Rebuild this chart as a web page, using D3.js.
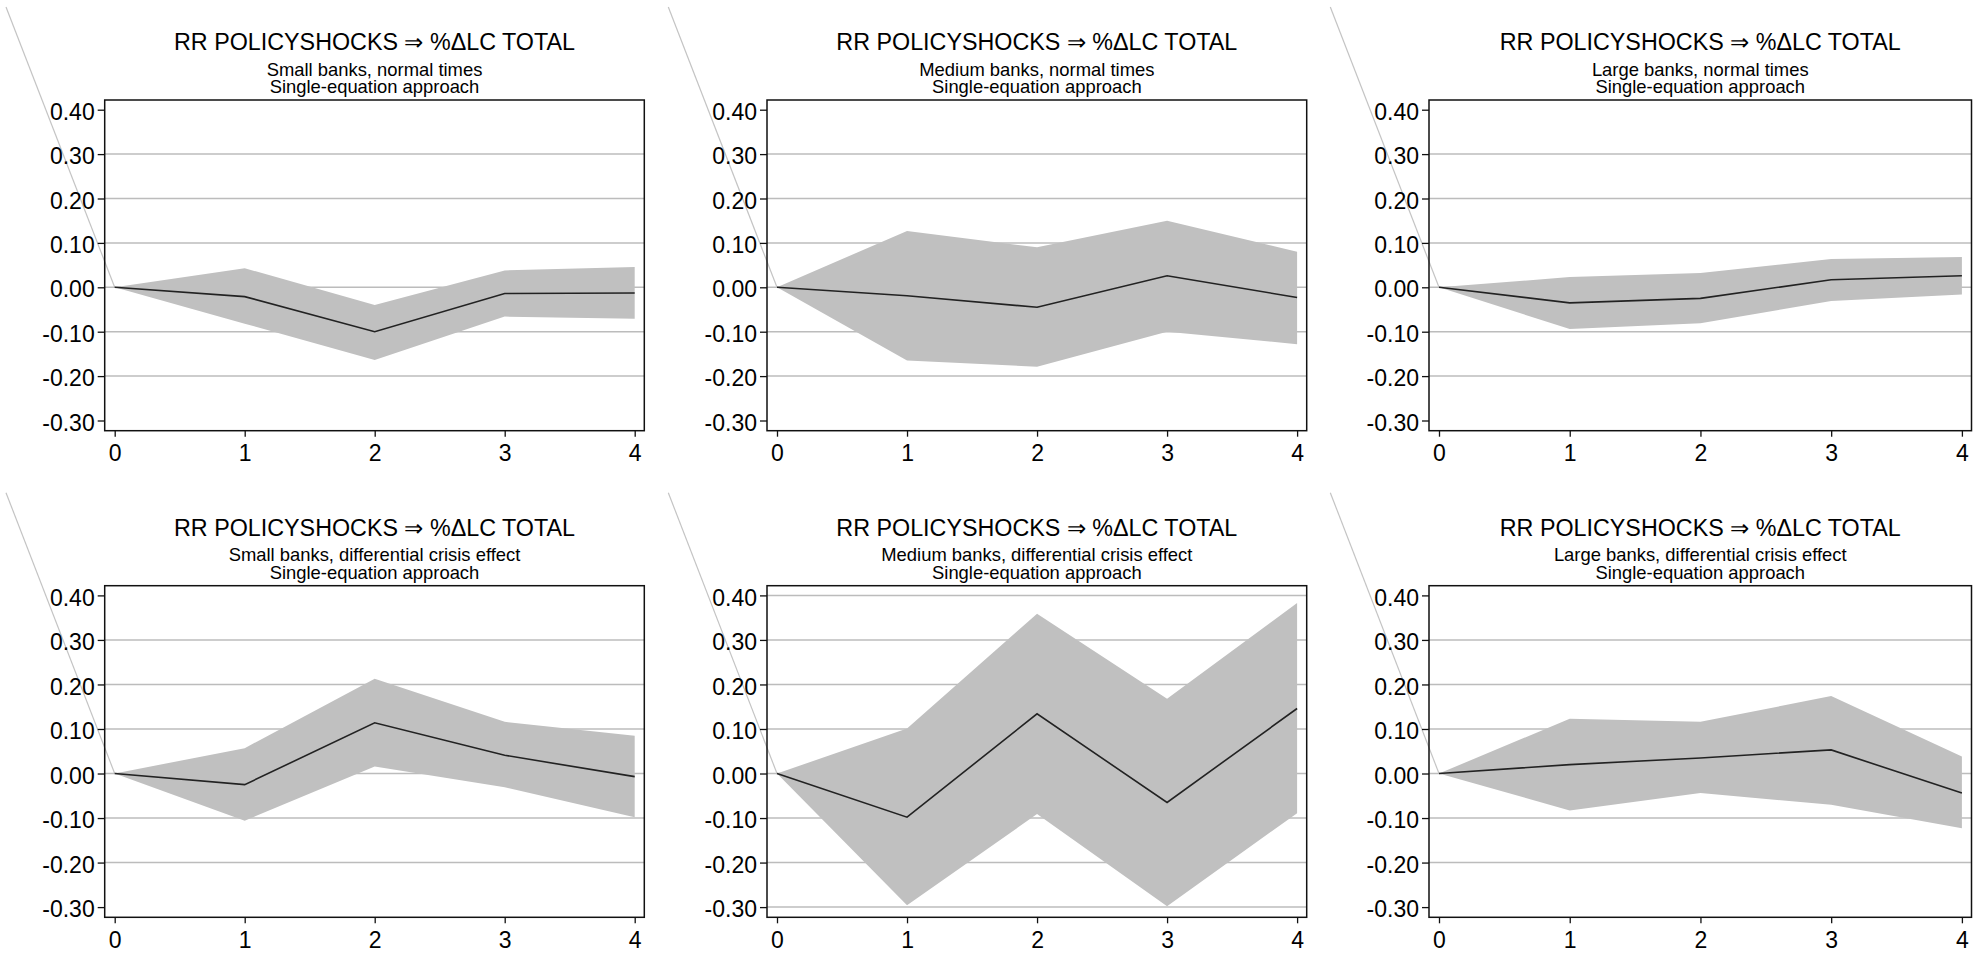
<!DOCTYPE html>
<meta charset="utf-8">
<style>
  body { margin: 0; background: #fff; }
  text { font-family: "Liberation Sans", Arial, Helvetica, sans-serif; fill: #000; }
</style>
<svg width="1986" height="954"></svg>
<script src="https://cdn.jsdelivr.net/npm/d3@7"></script>
<script>

// horizons (quarters after the shock) and y tick values
var horizon = [0, 1, 2, 3, 4];
var yTicks = [0.40, 0.30, 0.20, 0.10, 0.00, -0.10, -0.20, -0.30];

var title = "RR POLICYSHOCKS \u21D2 %\u0394LC TOTAL";
var subtitles = [
  "Small banks, normal times",
  "Medium banks, normal times",
  "Large banks, normal times",
  "Small banks, differential crisis effect",
  "Medium banks, differential crisis effect",
  "Large banks, differential crisis effect"
];
var method = "Single-equation approach";

// point estimates, one row per panel
var irfMean = [
  [0, -0.021, -0.100, -0.014, -0.013],
  [0, -0.019, -0.045,  0.026, -0.023],
  [0, -0.035, -0.025,  0.017,  0.026],
  [0, -0.025,  0.114,  0.041, -0.007],
  [0, -0.098,  0.134, -0.065,  0.146],
  [0,  0.020,  0.035,  0.053, -0.044]
];
// confidence band, upper edge
var bandUpper = [
  [0,  0.043, -0.040,  0.038,  0.046],
  [0,  0.127,  0.090,  0.150,  0.080],
  [0,  0.023,  0.032,  0.064,  0.068],
  [0,  0.057,  0.213,  0.116,  0.085],
  [0,  0.101,  0.359,  0.168,  0.383],
  [0,  0.123,  0.116,  0.174,  0.038]
];
// confidence band, lower edge
var bandLower = [
  [0, -0.082, -0.164, -0.066, -0.071],
  [0, -0.165, -0.179, -0.100, -0.128],
  [0, -0.094, -0.081, -0.031, -0.016],
  [0, -0.106,  0.016, -0.031, -0.098],
  [0, -0.296, -0.091, -0.298, -0.089],
  [0, -0.083, -0.044, -0.070, -0.123]
];
// panel 5 axis reaches both ends, so it gets every gridline
var fullGrid = [false, false, false, false, true, false];

var svg = d3.select("svg");

var colLeft = [104.7, 767, 1429],
    colRight = [644.3, 1306.7, 1971.5],
    rowTop = [100, 585.7],
    rowBottom = [430.7, 917.3];

subtitles.forEach(function(sub, i) {
  var c = i % 3, r = Math.floor(i / 3);
  var left = colLeft[c], right = colRight[c], top = rowTop[r], bottom = rowBottom[r];

  var x = d3.scaleLinear().domain([0, 4]).range([left + 10, right - 9.6]);
  var y = d3.scaleLinear().domain([-0.3, 0.4]).range([bottom - 10.2, top + 9.7]);

  var g = svg.append("g");

  // stray grey line into the origin
  g.append("line")
      .attr("x1", left - 98.7).attr("y1", top - 93)
      .attr("x2", x(0)).attr("y2", y(0))
      .attr("stroke", "#c4c4c4").attr("stroke-width", 1.2);

  var grid = fullGrid[i] ? yTicks : yTicks.slice(1, 7);
  g.selectAll(".grid").data(grid).enter().append("line")
      .attr("x1", left).attr("x2", right)
      .attr("y1", function(d) { return y(d); })
      .attr("y2", function(d) { return y(d); })
      .attr("stroke", "#bcbcbc").attr("stroke-width", 1.5);

  var pts = horizon.map(function(h, k) {
    return { h: h, m: irfMean[i][k], lo: bandLower[i][k], hi: bandUpper[i][k] };
  });

  g.append("path").datum(pts)
      .attr("fill", "#c0c0c0")
      .attr("d", d3.area()
        .x(function(d) { return x(d.h); })
        .y0(function(d) { return y(d.lo); })
        .y1(function(d) { return y(d.hi); }));

  g.append("path").datum(pts)
      .attr("fill", "none").attr("stroke", "#222").attr("stroke-width", 1.6)
      .attr("d", d3.line()
        .x(function(d) { return x(d.h); })
        .y(function(d) { return y(d.m); }));

  g.append("rect")
      .attr("x", left).attr("y", top)
      .attr("width", right - left).attr("height", bottom - top)
      .attr("fill", "none").attr("stroke", "#111").attr("stroke-width", 1.5);

  var yAxis = g.append("g").attr("transform", "translate(" + left + ",0)")
      .call(d3.axisLeft(y).tickValues(yTicks).tickSize(7).tickPadding(3)
        .tickFormat(function(d) { return d.toFixed(2); }));
  yAxis.select(".domain").remove();
  yAxis.selectAll("text").attr("dy", "0.42em").style("font-size", "23px");

  var xAxis = g.append("g").attr("transform", "translate(0," + bottom + ")")
      .call(d3.axisBottom(x).tickValues(horizon).tickSize(6).tickPadding(8)
        .tickFormat(d3.format("d")));
  xAxis.select(".domain").remove();
  xAxis.selectAll("text").style("font-size", "23px");
  svg.selectAll(".tick line").attr("stroke", "#111").attr("stroke-width", 1.3);

  var cx = (left + right) / 2;
  g.append("text").attr("x", cx).attr("y", top - 50)
      .attr("text-anchor", "middle").style("font-size", "23.3px").text(title);
  g.append("text").attr("x", cx).attr("y", top - 24.5)
      .attr("text-anchor", "middle").style("font-size", "18.4px").text(sub);
  g.append("text").attr("x", cx).attr("y", top - 7)
      .attr("text-anchor", "middle").style("font-size", "18.4px").text(method);
});

</script>
